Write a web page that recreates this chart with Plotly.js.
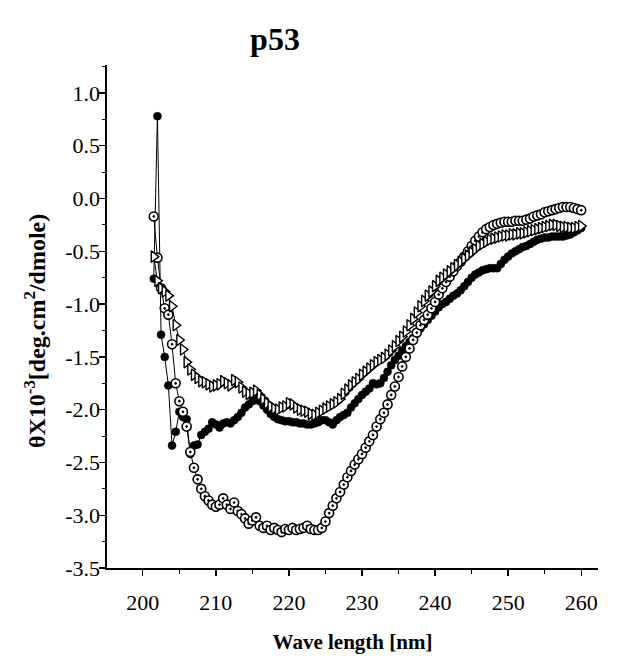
<!DOCTYPE html>
<html>
<head>
<meta charset="utf-8">
<script src="https://cdn.plot.ly/plotly-3.0.1.min.js"></script>
<style>html,body{margin:0;padding:0;background:#fff;}#chart{width:618px;height:663px;}</style>
</head>
<body>
<div id="chart"></div>
<script>
// Wavelength grid (nm) shared by the three spectra
const wavelength = [201.5,202,202.5,203,203.5,204,204.5,205,205.5,206,206.5,207,207.5,208,208.5,209,209.5,210,210.5,211,211.5,212,212.5,213,213.5,214,214.5,215,215.5,216,216.5,217,217.5,218,218.5,219,219.5,220,220.5,221,221.5,222,222.5,223,223.5,224,224.5,225,225.5,226,226.5,227,227.5,228,228.5,229,229.5,230,230.5,231,231.5,232,232.5,233,233.5,234,234.5,235,235.5,236,236.5,237,237.5,238,238.5,239,239.5,240,240.5,241,241.5,242,242.5,243,243.5,244,244.5,245,245.5,246,246.5,247,247.5,248,248.5,249,249.5,250,250.5,251,251.5,252,252.5,253,253.5,254,254.5,255,255.5,256,256.5,257,257.5,258,258.5,259,259.5,260];

// Filled circles
const filledSeries = [-0.76,0.78,-1.29,-1.50,-1.77,-2.34,-2.21,-2.02,-2.07,-2.09,-2.42,-2.34,-2.33,-2.24,-2.21,-2.18,-2.12,-2.14,-2.17,-2.13,-2.12,-2.13,-2.10,-2.07,-2.03,-1.98,-1.95,-1.92,-1.90,-1.92,-1.96,-2.00,-2.04,-2.07,-2.09,-2.10,-2.11,-2.11,-2.12,-2.12,-2.13,-2.13,-2.14,-2.14,-2.13,-2.12,-2.10,-2.10,-2.12,-2.14,-2.10,-2.07,-2.05,-2.03,-1.98,-1.94,-1.90,-1.86,-1.83,-1.80,-1.75,-1.76,-1.75,-1.70,-1.64,-1.58,-1.53,-1.49,-1.44,-1.40,-1.36,-1.32,-1.28,-1.23,-1.19,-1.15,-1.11,-1.07,-1.03,-1.00,-0.98,-0.95,-0.92,-0.90,-0.87,-0.83,-0.79,-0.75,-0.72,-0.70,-0.68,-0.67,-0.66,-0.66,-0.66,-0.62,-0.58,-0.55,-0.52,-0.50,-0.48,-0.46,-0.45,-0.43,-0.41,-0.39,-0.38,-0.37,-0.37,-0.36,-0.36,-0.36,-0.36,-0.35,-0.34,-0.32,-0.30,-0.28];

// Open circles (with centre dot)
const openSeries = [-0.17,-0.56,-0.85,-1.04,-1.10,-1.38,-1.75,-1.92,-2.02,-2.16,-2.40,-2.55,-2.66,-2.75,-2.82,-2.86,-2.90,-2.92,-2.90,-2.84,-2.90,-2.94,-2.88,-2.96,-2.99,-3.03,-3.08,-3.05,-3.02,-3.10,-3.12,-3.10,-3.14,-3.12,-3.14,-3.16,-3.13,-3.14,-3.12,-3.14,-3.13,-3.12,-3.10,-3.13,-3.14,-3.14,-3.12,-3.06,-2.98,-2.91,-2.84,-2.78,-2.71,-2.64,-2.58,-2.52,-2.47,-2.42,-2.36,-2.30,-2.24,-2.16,-2.09,-2.03,-1.95,-1.86,-1.78,-1.69,-1.59,-1.50,-1.42,-1.34,-1.27,-1.20,-1.15,-1.10,-1.04,-0.98,-0.91,-0.85,-0.79,-0.74,-0.69,-0.64,-0.60,-0.55,-0.50,-0.45,-0.40,-0.36,-0.32,-0.29,-0.27,-0.25,-0.24,-0.23,-0.22,-0.22,-0.22,-0.21,-0.21,-0.21,-0.20,-0.19,-0.17,-0.16,-0.15,-0.13,-0.12,-0.11,-0.10,-0.09,-0.08,-0.08,-0.08,-0.09,-0.10,-0.11];

// Open triangles
const triangleSeries = [-0.55,-0.78,-0.85,-0.88,-0.92,-1.02,-1.20,-1.34,-1.43,-1.55,-1.62,-1.67,-1.70,-1.73,-1.74,-1.76,-1.78,-1.77,-1.76,-1.73,-1.75,-1.77,-1.72,-1.74,-1.79,-1.83,-1.85,-1.84,-1.82,-1.86,-1.90,-1.94,-1.97,-1.99,-2.00,-1.98,-1.97,-1.94,-1.95,-1.98,-2.00,-2.01,-2.02,-2.04,-2.05,-2.03,-2.01,-1.99,-1.97,-1.95,-1.93,-1.90,-1.85,-1.81,-1.77,-1.74,-1.71,-1.67,-1.64,-1.61,-1.58,-1.55,-1.53,-1.51,-1.48,-1.44,-1.40,-1.35,-1.31,-1.26,-1.20,-1.14,-1.08,-1.02,-0.97,-0.92,-0.88,-0.83,-0.78,-0.75,-0.72,-0.69,-0.66,-0.63,-0.60,-0.57,-0.54,-0.51,-0.48,-0.45,-0.43,-0.41,-0.39,-0.38,-0.37,-0.36,-0.35,-0.35,-0.34,-0.34,-0.33,-0.33,-0.32,-0.31,-0.30,-0.29,-0.28,-0.27,-0.26,-0.25,-0.25,-0.26,-0.27,-0.27,-0.28,-0.28,-0.27,-0.26];

const xTickVals = [200,210,220,230,240,250,260];
const yTickVals = [1.0,0.5,0.0,-0.5,-1.0,-1.5,-2.0,-2.5,-3.0,-3.5];
const yTickText = ['1.0','0.5','0.0','-0.5','-1.0','-1.5','-2.0','-2.5','-3.0','-3.5'];

const serif = 'Liberation Serif, Times New Roman, serif';

const traces = [
  {x: wavelength, y: filledSeries, type: 'scatter', mode: 'lines+markers', name: 'filled',
   line: {color: '#000', width: 1},
   marker: {symbol: 'circle', size: 8, color: '#000', line: {color: '#000', width: 0.5}}},
  {x: wavelength, y: openSeries, type: 'scatter', mode: 'lines+markers', name: 'open',
   line: {color: '#000', width: 1},
   marker: {symbol: 'circle-dot', size: 9, color: '#fff', line: {color: '#000', width: 1.6}}},
  {x: wavelength, y: triangleSeries, type: 'scatter', mode: 'lines+markers', name: 'triangle',
   line: {color: '#000', width: 1},
   marker: {symbol: 'triangle-right', size: 10, color: '#fff', line: {color: '#000', width: 1.4}}}
];

const layout = {
  width: 618, height: 663,
  paper_bgcolor: '#fff', plot_bgcolor: '#fff',
  showlegend: false,
  margin: {l: 107, r: 20, t: 65, b: 95},
  title: {text: '<b>p53</b>', font: {family: serif, size: 32, color: '#000'},
          x: 275/618, xanchor: 'center', xref: 'container',
          y: 1 - 39/663, yanchor: 'middle', yref: 'container'},
  xaxis: {
    range: [195.1, 262.3], showgrid: false, zeroline: false,
    showline: true, linecolor: '#000', linewidth: 2.2,
    ticks: 'outside', ticklen: 6, tickwidth: 1.3, tickcolor: '#000',
    tickmode: 'array', tickvals: xTickVals, ticktext: xTickVals.map(String),
    minor: {dtick: 5, tick0: 0, ticks: 'outside', ticklen: 4, tickwidth: 1, tickcolor: '#000', showgrid: false},
    tickfont: {family: serif, size: 22, color: '#000'},
    ticklabelstandoff: 7,
    title: {text: '<b>Wave length [nm]</b>', font: {family: serif, size: 21, color: '#000'}, standoff: 21}
  },
  yaxis: {
    range: [-3.5, 1.265], showgrid: false, zeroline: false,
    showline: true, linecolor: '#000', linewidth: 1.6,
    ticks: 'outside', ticklen: 6, tickwidth: 1.3, tickcolor: '#000',
    tickmode: 'array', tickvals: yTickVals, ticktext: yTickText,
    minor: {dtick: 0.25, tick0: 0, ticks: 'outside', ticklen: 3, tickwidth: 1, tickcolor: '#000', showgrid: false},
    tickfont: {family: serif, size: 22, color: '#000'},
    ticklabelstandoff: -5
  },
  annotations: [{
    text: '<b>θX10<sup>-3</sup>[deg.cm<sup>2</sup>/dmole)</b>',
    xref: 'paper', yref: 'paper',
    x: (35 - 107) / (598 - 107), y: (568 - 331) / 503,
    xanchor: 'center', yanchor: 'middle', textangle: -90, showarrow: false,
    font: {family: serif, size: 24, color: '#000'}
  }]
};

Plotly.newPlot('chart', traces, layout, {displayModeBar: false, staticPlot: true});
</script>
</body>
</html>
